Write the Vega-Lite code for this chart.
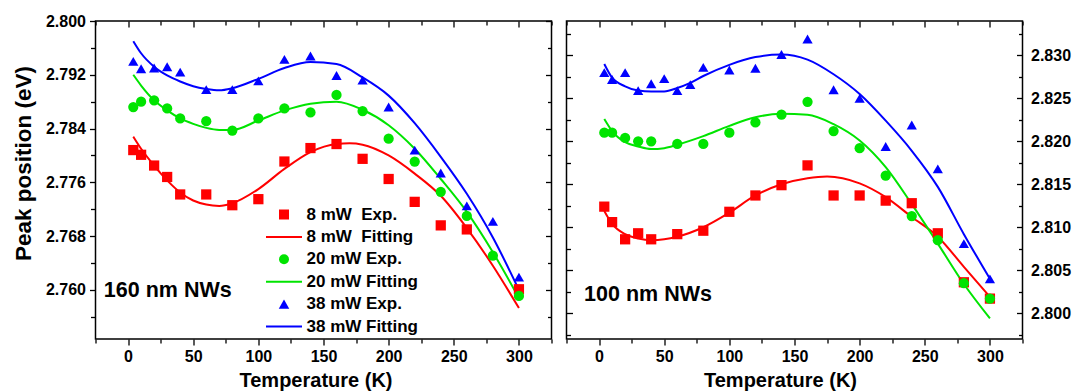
{
  "$schema": "https://vega.github.io/schema/vega-lite/v6.json",
  "background": "white",
  "padding": {"left": 11.5, "top": 12, "right": 0, "bottom": 2},
  "spacing": 11,
  "config": {
    "font": "Liberation Sans",
    "view": {"stroke": "black", "strokeWidth": 1.5},
    "axis": {"labelFont": "Liberation Sans", "labelFontWeight": "bold", "labelFontSize": 16, "labelColor": "black", "titleFont": "Liberation Sans", "titleFontWeight": "bold", "titleColor": "black", "tickColor": "black", "tickWidth": 1.3, "domain": false, "grid": false},
    "legend": {"labelFont": "Liberation Sans", "labelFontWeight": "bold", "labelFontSize": 17, "labelColor": "black"}
  },
  "datasets": {
    "left_exp": [
      {"T": 4, "E": 2.7808, "series": "8 mW\u00a0\u00a0Exp."},
      {"T": 10, "E": 2.7801, "series": "8 mW\u00a0\u00a0Exp."},
      {"T": 20, "E": 2.7785, "series": "8 mW\u00a0\u00a0Exp."},
      {"T": 30, "E": 2.7768, "series": "8 mW\u00a0\u00a0Exp."},
      {"T": 40, "E": 2.7742, "series": "8 mW\u00a0\u00a0Exp."},
      {"T": 60, "E": 2.7742, "series": "8 mW\u00a0\u00a0Exp."},
      {"T": 80, "E": 2.7726, "series": "8 mW\u00a0\u00a0Exp."},
      {"T": 100, "E": 2.7735, "series": "8 mW\u00a0\u00a0Exp."},
      {"T": 120, "E": 2.7791, "series": "8 mW\u00a0\u00a0Exp."},
      {"T": 140, "E": 2.7811, "series": "8 mW\u00a0\u00a0Exp."},
      {"T": 160, "E": 2.7817, "series": "8 mW\u00a0\u00a0Exp."},
      {"T": 180, "E": 2.7795, "series": "8 mW\u00a0\u00a0Exp."},
      {"T": 200, "E": 2.7765, "series": "8 mW\u00a0\u00a0Exp."},
      {"T": 220, "E": 2.7731, "series": "8 mW\u00a0\u00a0Exp."},
      {"T": 240, "E": 2.7696, "series": "8 mW\u00a0\u00a0Exp."},
      {"T": 260, "E": 2.7690, "series": "8 mW\u00a0\u00a0Exp."},
      {"T": 300, "E": 2.7601, "series": "8 mW\u00a0\u00a0Exp."},
      {"T": 4, "E": 2.7872, "series": "20 mW Exp."},
      {"T": 10, "E": 2.7880, "series": "20 mW Exp."},
      {"T": 20, "E": 2.7882, "series": "20 mW Exp."},
      {"T": 30, "E": 2.7870, "series": "20 mW Exp."},
      {"T": 40, "E": 2.7855, "series": "20 mW Exp."},
      {"T": 60, "E": 2.7851, "series": "20 mW Exp."},
      {"T": 80, "E": 2.7837, "series": "20 mW Exp."},
      {"T": 100, "E": 2.7855, "series": "20 mW Exp."},
      {"T": 120, "E": 2.7870, "series": "20 mW Exp."},
      {"T": 140, "E": 2.7864, "series": "20 mW Exp."},
      {"T": 160, "E": 2.7890, "series": "20 mW Exp."},
      {"T": 180, "E": 2.7866, "series": "20 mW Exp."},
      {"T": 200, "E": 2.7825, "series": "20 mW Exp."},
      {"T": 220, "E": 2.7791, "series": "20 mW Exp."},
      {"T": 240, "E": 2.7746, "series": "20 mW Exp."},
      {"T": 260, "E": 2.7710, "series": "20 mW Exp."},
      {"T": 280, "E": 2.7651, "series": "20 mW Exp."},
      {"T": 300, "E": 2.7591, "series": "20 mW Exp."},
      {"T": 4, "E": 2.7940, "series": "38 mW Exp."},
      {"T": 10, "E": 2.7929, "series": "38 mW Exp."},
      {"T": 20, "E": 2.7930, "series": "38 mW Exp."},
      {"T": 30, "E": 2.7932, "series": "38 mW Exp."},
      {"T": 40, "E": 2.7924, "series": "38 mW Exp."},
      {"T": 60, "E": 2.7898, "series": "38 mW Exp."},
      {"T": 80, "E": 2.7898, "series": "38 mW Exp."},
      {"T": 100, "E": 2.7911, "series": "38 mW Exp."},
      {"T": 120, "E": 2.7943, "series": "38 mW Exp."},
      {"T": 140, "E": 2.7948, "series": "38 mW Exp."},
      {"T": 160, "E": 2.7919, "series": "38 mW Exp."},
      {"T": 180, "E": 2.7912, "series": "38 mW Exp."},
      {"T": 200, "E": 2.7872, "series": "38 mW Exp."},
      {"T": 220, "E": 2.7808, "series": "38 mW Exp."},
      {"T": 240, "E": 2.7774, "series": "38 mW Exp."},
      {"T": 260, "E": 2.7725, "series": "38 mW Exp."},
      {"T": 280, "E": 2.7702, "series": "38 mW Exp."},
      {"T": 300, "E": 2.7619, "series": "38 mW Exp."}
    ],
    "left_fit": [
      {"T": 4, "E": 2.7828, "series": "8 mW\u00a0\u00a0Fitting"},
      {"T": 10, "E": 2.7810, "series": "8 mW\u00a0\u00a0Fitting"},
      {"T": 20, "E": 2.7785, "series": "8 mW\u00a0\u00a0Fitting"},
      {"T": 30, "E": 2.7763, "series": "8 mW\u00a0\u00a0Fitting"},
      {"T": 40, "E": 2.7745, "series": "8 mW\u00a0\u00a0Fitting"},
      {"T": 50, "E": 2.7733, "series": "8 mW\u00a0\u00a0Fitting"},
      {"T": 60, "E": 2.7727, "series": "8 mW\u00a0\u00a0Fitting"},
      {"T": 70, "E": 2.7725, "series": "8 mW\u00a0\u00a0Fitting"},
      {"T": 80, "E": 2.7729, "series": "8 mW\u00a0\u00a0Fitting"},
      {"T": 100, "E": 2.7750, "series": "8 mW\u00a0\u00a0Fitting"},
      {"T": 120, "E": 2.7780, "series": "8 mW\u00a0\u00a0Fitting"},
      {"T": 140, "E": 2.7805, "series": "8 mW\u00a0\u00a0Fitting"},
      {"T": 160, "E": 2.7817, "series": "8 mW\u00a0\u00a0Fitting"},
      {"T": 170, "E": 2.7818, "series": "8 mW\u00a0\u00a0Fitting"},
      {"T": 180, "E": 2.7816, "series": "8 mW\u00a0\u00a0Fitting"},
      {"T": 200, "E": 2.7800, "series": "8 mW\u00a0\u00a0Fitting"},
      {"T": 220, "E": 2.7773, "series": "8 mW\u00a0\u00a0Fitting"},
      {"T": 240, "E": 2.7740, "series": "8 mW\u00a0\u00a0Fitting"},
      {"T": 260, "E": 2.7692, "series": "8 mW\u00a0\u00a0Fitting"},
      {"T": 280, "E": 2.7636, "series": "8 mW\u00a0\u00a0Fitting"},
      {"T": 300, "E": 2.7573, "series": "8 mW\u00a0\u00a0Fitting"},
      {"T": 4, "E": 2.7920, "series": "20 mW Fitting"},
      {"T": 10, "E": 2.7904, "series": "20 mW Fitting"},
      {"T": 20, "E": 2.7882, "series": "20 mW Fitting"},
      {"T": 30, "E": 2.7867, "series": "20 mW Fitting"},
      {"T": 40, "E": 2.7855, "series": "20 mW Fitting"},
      {"T": 50, "E": 2.7847, "series": "20 mW Fitting"},
      {"T": 60, "E": 2.7841, "series": "20 mW Fitting"},
      {"T": 70, "E": 2.7838, "series": "20 mW Fitting"},
      {"T": 80, "E": 2.7838, "series": "20 mW Fitting"},
      {"T": 100, "E": 2.7852, "series": "20 mW Fitting"},
      {"T": 120, "E": 2.7867, "series": "20 mW Fitting"},
      {"T": 140, "E": 2.7877, "series": "20 mW Fitting"},
      {"T": 160, "E": 2.7880, "series": "20 mW Fitting"},
      {"T": 180, "E": 2.7868, "series": "20 mW Fitting"},
      {"T": 200, "E": 2.7845, "series": "20 mW Fitting"},
      {"T": 220, "E": 2.7810, "series": "20 mW Fitting"},
      {"T": 240, "E": 2.7765, "series": "20 mW Fitting"},
      {"T": 260, "E": 2.7716, "series": "20 mW Fitting"},
      {"T": 280, "E": 2.7656, "series": "20 mW Fitting"},
      {"T": 300, "E": 2.7588, "series": "20 mW Fitting"},
      {"T": 4, "E": 2.7970, "series": "38 mW Fitting"},
      {"T": 10, "E": 2.7952, "series": "38 mW Fitting"},
      {"T": 20, "E": 2.7932, "series": "38 mW Fitting"},
      {"T": 30, "E": 2.7919, "series": "38 mW Fitting"},
      {"T": 40, "E": 2.7910, "series": "38 mW Fitting"},
      {"T": 50, "E": 2.7903, "series": "38 mW Fitting"},
      {"T": 60, "E": 2.7899, "series": "38 mW Fitting"},
      {"T": 70, "E": 2.7897, "series": "38 mW Fitting"},
      {"T": 80, "E": 2.7900, "series": "38 mW Fitting"},
      {"T": 100, "E": 2.7914, "series": "38 mW Fitting"},
      {"T": 120, "E": 2.7930, "series": "38 mW Fitting"},
      {"T": 140, "E": 2.7939, "series": "38 mW Fitting"},
      {"T": 160, "E": 2.7936, "series": "38 mW Fitting"},
      {"T": 180, "E": 2.7916, "series": "38 mW Fitting"},
      {"T": 200, "E": 2.7889, "series": "38 mW Fitting"},
      {"T": 220, "E": 2.7848, "series": "38 mW Fitting"},
      {"T": 240, "E": 2.7798, "series": "38 mW Fitting"},
      {"T": 260, "E": 2.7743, "series": "38 mW Fitting"},
      {"T": 280, "E": 2.7678, "series": "38 mW Fitting"},
      {"T": 300, "E": 2.7600, "series": "38 mW Fitting"}
    ],
    "right_exp": [
      {"T": 4, "E": 2.8124, "series": "8 mW\u00a0\u00a0Exp."},
      {"T": 10, "E": 2.8106, "series": "8 mW\u00a0\u00a0Exp."},
      {"T": 20, "E": 2.8086, "series": "8 mW\u00a0\u00a0Exp."},
      {"T": 30, "E": 2.8093, "series": "8 mW\u00a0\u00a0Exp."},
      {"T": 40, "E": 2.8086, "series": "8 mW\u00a0\u00a0Exp."},
      {"T": 60, "E": 2.8092, "series": "8 mW\u00a0\u00a0Exp."},
      {"T": 80, "E": 2.8096, "series": "8 mW\u00a0\u00a0Exp."},
      {"T": 100, "E": 2.8118, "series": "8 mW\u00a0\u00a0Exp."},
      {"T": 120, "E": 2.8137, "series": "8 mW\u00a0\u00a0Exp."},
      {"T": 140, "E": 2.8149, "series": "8 mW\u00a0\u00a0Exp."},
      {"T": 160, "E": 2.8172, "series": "8 mW\u00a0\u00a0Exp."},
      {"T": 180, "E": 2.8137, "series": "8 mW\u00a0\u00a0Exp."},
      {"T": 200, "E": 2.8137, "series": "8 mW\u00a0\u00a0Exp."},
      {"T": 220, "E": 2.8131, "series": "8 mW\u00a0\u00a0Exp."},
      {"T": 240, "E": 2.8128, "series": "8 mW\u00a0\u00a0Exp."},
      {"T": 260, "E": 2.8093, "series": "8 mW\u00a0\u00a0Exp."},
      {"T": 280, "E": 2.8036, "series": "8 mW\u00a0\u00a0Exp."},
      {"T": 300, "E": 2.8017, "series": "8 mW\u00a0\u00a0Exp."},
      {"T": 4, "E": 2.8210, "series": "20 mW Exp."},
      {"T": 10, "E": 2.8210, "series": "20 mW Exp."},
      {"T": 20, "E": 2.8204, "series": "20 mW Exp."},
      {"T": 30, "E": 2.8200, "series": "20 mW Exp."},
      {"T": 40, "E": 2.8200, "series": "20 mW Exp."},
      {"T": 60, "E": 2.8197, "series": "20 mW Exp."},
      {"T": 80, "E": 2.8197, "series": "20 mW Exp."},
      {"T": 100, "E": 2.8210, "series": "20 mW Exp."},
      {"T": 120, "E": 2.8222, "series": "20 mW Exp."},
      {"T": 140, "E": 2.8231, "series": "20 mW Exp."},
      {"T": 160, "E": 2.8246, "series": "20 mW Exp."},
      {"T": 180, "E": 2.8212, "series": "20 mW Exp."},
      {"T": 200, "E": 2.8192, "series": "20 mW Exp."},
      {"T": 220, "E": 2.8160, "series": "20 mW Exp."},
      {"T": 240, "E": 2.8113, "series": "20 mW Exp."},
      {"T": 260, "E": 2.8085, "series": "20 mW Exp."},
      {"T": 280, "E": 2.8035, "series": "20 mW Exp."},
      {"T": 300, "E": 2.8017, "series": "20 mW Exp."},
      {"T": 4, "E": 2.8280, "series": "38 mW Exp."},
      {"T": 10, "E": 2.8272, "series": "38 mW Exp."},
      {"T": 20, "E": 2.8280, "series": "38 mW Exp."},
      {"T": 30, "E": 2.8259, "series": "38 mW Exp."},
      {"T": 40, "E": 2.8267, "series": "38 mW Exp."},
      {"T": 50, "E": 2.8273, "series": "38 mW Exp."},
      {"T": 60, "E": 2.8259, "series": "38 mW Exp."},
      {"T": 70, "E": 2.8266, "series": "38 mW Exp."},
      {"T": 80, "E": 2.8286, "series": "38 mW Exp."},
      {"T": 100, "E": 2.8283, "series": "38 mW Exp."},
      {"T": 120, "E": 2.8285, "series": "38 mW Exp."},
      {"T": 140, "E": 2.8301, "series": "38 mW Exp."},
      {"T": 160, "E": 2.8319, "series": "38 mW Exp."},
      {"T": 180, "E": 2.8260, "series": "38 mW Exp."},
      {"T": 200, "E": 2.8250, "series": "38 mW Exp."},
      {"T": 220, "E": 2.8194, "series": "38 mW Exp."},
      {"T": 240, "E": 2.8219, "series": "38 mW Exp."},
      {"T": 260, "E": 2.8168, "series": "38 mW Exp."},
      {"T": 280, "E": 2.8081, "series": "38 mW Exp."},
      {"T": 300, "E": 2.8040, "series": "38 mW Exp."}
    ],
    "right_fit": [
      {"T": 4, "E": 2.8119, "series": "8 mW\u00a0\u00a0Fitting"},
      {"T": 10, "E": 2.8104, "series": "8 mW\u00a0\u00a0Fitting"},
      {"T": 20, "E": 2.8092, "series": "8 mW\u00a0\u00a0Fitting"},
      {"T": 30, "E": 2.8087, "series": "8 mW\u00a0\u00a0Fitting"},
      {"T": 40, "E": 2.8085, "series": "8 mW\u00a0\u00a0Fitting"},
      {"T": 50, "E": 2.8086, "series": "8 mW\u00a0\u00a0Fitting"},
      {"T": 60, "E": 2.8089, "series": "8 mW\u00a0\u00a0Fitting"},
      {"T": 80, "E": 2.8100, "series": "8 mW\u00a0\u00a0Fitting"},
      {"T": 100, "E": 2.8117, "series": "8 mW\u00a0\u00a0Fitting"},
      {"T": 120, "E": 2.8137, "series": "8 mW\u00a0\u00a0Fitting"},
      {"T": 140, "E": 2.8150, "series": "8 mW\u00a0\u00a0Fitting"},
      {"T": 160, "E": 2.8157, "series": "8 mW\u00a0\u00a0Fitting"},
      {"T": 175, "E": 2.8159, "series": "8 mW\u00a0\u00a0Fitting"},
      {"T": 200, "E": 2.8151, "series": "8 mW\u00a0\u00a0Fitting"},
      {"T": 220, "E": 2.8135, "series": "8 mW\u00a0\u00a0Fitting"},
      {"T": 240, "E": 2.8112, "series": "8 mW\u00a0\u00a0Fitting"},
      {"T": 260, "E": 2.8089, "series": "8 mW\u00a0\u00a0Fitting"},
      {"T": 280, "E": 2.8054, "series": "8 mW\u00a0\u00a0Fitting"},
      {"T": 300, "E": 2.8019, "series": "8 mW\u00a0\u00a0Fitting"},
      {"T": 4, "E": 2.8226, "series": "20 mW Fitting"},
      {"T": 10, "E": 2.8212, "series": "20 mW Fitting"},
      {"T": 20, "E": 2.8199, "series": "20 mW Fitting"},
      {"T": 30, "E": 2.8194, "series": "20 mW Fitting"},
      {"T": 40, "E": 2.8191, "series": "20 mW Fitting"},
      {"T": 50, "E": 2.8192, "series": "20 mW Fitting"},
      {"T": 60, "E": 2.8196, "series": "20 mW Fitting"},
      {"T": 80, "E": 2.8206, "series": "20 mW Fitting"},
      {"T": 100, "E": 2.8218, "series": "20 mW Fitting"},
      {"T": 120, "E": 2.8228, "series": "20 mW Fitting"},
      {"T": 140, "E": 2.8232, "series": "20 mW Fitting"},
      {"T": 160, "E": 2.8231, "series": "20 mW Fitting"},
      {"T": 180, "E": 2.8220, "series": "20 mW Fitting"},
      {"T": 200, "E": 2.8201, "series": "20 mW Fitting"},
      {"T": 220, "E": 2.8170, "series": "20 mW Fitting"},
      {"T": 240, "E": 2.8127, "series": "20 mW Fitting"},
      {"T": 260, "E": 2.8081, "series": "20 mW Fitting"},
      {"T": 280, "E": 2.8034, "series": "20 mW Fitting"},
      {"T": 300, "E": 2.7994, "series": "20 mW Fitting"},
      {"T": 4, "E": 2.8290, "series": "38 mW Fitting"},
      {"T": 10, "E": 2.8274, "series": "38 mW Fitting"},
      {"T": 20, "E": 2.8264, "series": "38 mW Fitting"},
      {"T": 30, "E": 2.8259, "series": "38 mW Fitting"},
      {"T": 40, "E": 2.8258, "series": "38 mW Fitting"},
      {"T": 50, "E": 2.8258, "series": "38 mW Fitting"},
      {"T": 60, "E": 2.8262, "series": "38 mW Fitting"},
      {"T": 70, "E": 2.8268, "series": "38 mW Fitting"},
      {"T": 80, "E": 2.8276, "series": "38 mW Fitting"},
      {"T": 100, "E": 2.8289, "series": "38 mW Fitting"},
      {"T": 120, "E": 2.8298, "series": "38 mW Fitting"},
      {"T": 140, "E": 2.8301, "series": "38 mW Fitting"},
      {"T": 160, "E": 2.8295, "series": "38 mW Fitting"},
      {"T": 180, "E": 2.8278, "series": "38 mW Fitting"},
      {"T": 200, "E": 2.8255, "series": "38 mW Fitting"},
      {"T": 220, "E": 2.8224, "series": "38 mW Fitting"},
      {"T": 240, "E": 2.8189, "series": "38 mW Fitting"},
      {"T": 260, "E": 2.8147, "series": "38 mW Fitting"},
      {"T": 280, "E": 2.8092, "series": "38 mW Fitting"},
      {"T": 300, "E": 2.8040, "series": "38 mW Fitting"}
    ]
  },
  "hconcat": [
    {
      "width": 456,
      "height": 318,
      "resolve": {"axis": {"x": "independent", "y": "independent"}},
      "layer": [
        {
          "data": {"name": "left_fit"},
          "mark": {"type": "line", "strokeWidth": 2, "interpolate": "monotone"},
          "encoding": {
            "x": {"field": "T", "type": "quantitative", "scale": {"domain": [-25, 325], "nice": false, "zero": false},
              "axis": {"orient": "top", "values": [-25, 0, 25, 50, 75, 100, 125, 150, 175, 200, 225, 250, 275, 300, 325], "labels": false, "title": null, "minExtent": 0, "tickSize": {"condition": {"test": "datum.value % 50 === 0", "value": -6}, "value": -4}}},
            "y": {"field": "E", "type": "quantitative", "scale": {"domain": [2.7527, 2.8], "nice": false, "zero": false},
              "axis": {"orient": "right", "values": [2.756, 2.76, 2.764, 2.768, 2.772, 2.776, 2.78, 2.784, 2.788, 2.792, 2.796, 2.8], "labels": false, "title": null, "minExtent": 0, "tickSize": {"condition": {"test": "round((datum.value-2.76)*250) % 2 === 0", "value": -6}, "value": -4}}},
            "stroke": {"field": "series", "type": "nominal",
              "scale": {"domain": ["8 mW\u00a0\u00a0Exp.", "8 mW\u00a0\u00a0Fitting", "20 mW Exp.", "20 mW Fitting", "38 mW Exp.", "38 mW Fitting"], "range": ["#ff0000", "#ff0000", "#00e400", "#00e400", "#0000ff", "#0000ff"]},
              "legend": {"title": null, "orient": "none", "legendX": 180, "legendY": 185, "padding": 0, "labelOffset": 14, "rowPadding": 4.4, "symbolStrokeWidth": 2, "encode": {"symbols": {"update": {"strokeWidth": {"signal": "test(/Fitting/, datum.value) ? 2 : 0"}, "size": {"signal": "test(/38 mW Exp/, datum.value) ? 110 : 100"}}}}}}
          }
        },
        {
          "data": {"name": "left_exp"},
          "mark": {"type": "point", "filled": true, "opacity": 1, "strokeWidth": 0},
          "encoding": {
            "x": {"field": "T", "type": "quantitative", "scale": {"domain": [-25, 325], "nice": false, "zero": false},
              "axis": {"orient": "bottom", "values": [-25, 0, 25, 50, 75, 100, 125, 150, 175, 200, 225, 250, 275, 300, 325], "labelExpr": "datum.value >= 0 && datum.value % 50 === 0 ? datum.label : ''", "title": "Temperature (K)", "titleFontSize": 20, "titlePadding": 6, "titleX": 220, "labelPadding": 3, "tickSize": {"condition": {"test": "datum.value % 50 === 0", "value": 6}, "value": 4}}},
            "y": {"field": "E", "type": "quantitative", "scale": {"domain": [2.7527, 2.8], "nice": false, "zero": false},
              "axis": {"orient": "left", "values": [2.756, 2.76, 2.764, 2.768, 2.772, 2.776, 2.78, 2.784, 2.788, 2.792, 2.796, 2.8], "labelExpr": "round((datum.value-2.76)*250) % 2 === 0 ? format(datum.value, '.3f') : ''", "title": "Peak position (eV)", "titleFontSize": 22.5, "titlePadding": 10, "titleY": 142, "labelPadding": 4, "tickSize": {"condition": {"test": "round((datum.value-2.76)*250) % 2 === 0", "value": 6}, "value": 5}}},
            "size": {"field": "series", "type": "nominal", "scale": {"domain": ["8 mW\u00a0\u00a0Exp.", "20 mW Exp.", "38 mW Exp."], "range": [105, 105, 150]}, "legend": null},
            "fill": {"field": "series", "type": "nominal",
              "scale": {"domain": ["8 mW\u00a0\u00a0Exp.", "8 mW\u00a0\u00a0Fitting", "20 mW Exp.", "20 mW Fitting", "38 mW Exp.", "38 mW Fitting"], "range": ["#ff0000", "#ff0000", "#00e400", "#00e400", "#0000ff", "#0000ff"]},
              "legend": {"title": null, "orient": "none", "legendX": 180, "legendY": 185, "padding": 0, "labelOffset": 14, "rowPadding": 4.4, "symbolStrokeWidth": 2, "encode": {"symbols": {"update": {"strokeWidth": {"signal": "test(/Fitting/, datum.value) ? 2 : 0"}, "size": {"signal": "test(/38 mW Exp/, datum.value) ? 110 : 100"}}}}}},
            "shape": {"field": "series", "type": "nominal",
              "scale": {"domain": ["8 mW\u00a0\u00a0Exp.", "8 mW\u00a0\u00a0Fitting", "20 mW Exp.", "20 mW Fitting", "38 mW Exp.", "38 mW Fitting"], "range": ["square", "M-3.6,0H3.6", "circle", "M-3.6,0H3.6", "triangle-up", "M-3.6,0H3.6"]},
              "legend": {"title": null, "orient": "none", "legendX": 180, "legendY": 185, "padding": 0, "labelOffset": 14, "rowPadding": 4.4, "symbolStrokeWidth": 2, "encode": {"symbols": {"update": {"strokeWidth": {"signal": "test(/Fitting/, datum.value) ? 2 : 0"}, "size": {"signal": "test(/38 mW Exp/, datum.value) ? 110 : 100"}}}}}}
          }
        },
        {
          "data": {"values": [{"label": "160 nm NWs"}]},
          "mark": {"type": "text", "align": "left", "baseline": "middle", "fontSize": 21.5, "fontWeight": "bold", "font": "Liberation Sans", "color": "black"},
          "encoding": {
            "text": {"field": "label"},
            "x": {"datum": -18.6, "type": "quantitative", "axis": null},
            "y": {"datum": 2.7599, "type": "quantitative", "axis": null}
          }
        }
      ]
    },
    {
      "width": 456,
      "height": 318,
      "resolve": {"axis": {"x": "independent", "y": "independent"}},
      "layer": [
        {
          "data": {"name": "right_fit"},
          "mark": {"type": "line", "strokeWidth": 2, "interpolate": "monotone"},
          "encoding": {
            "x": {"field": "T", "type": "quantitative", "scale": {"domain": [-25, 325], "nice": false, "zero": false},
              "axis": {"orient": "top", "values": [-25, 0, 25, 50, 75, 100, 125, 150, 175, 200, 225, 250, 275, 300, 325], "labels": false, "title": null, "minExtent": 0, "tickSize": {"condition": {"test": "datum.value % 50 === 0", "value": -6}, "value": -4}}},
            "y": {"field": "E", "type": "quantitative", "scale": {"domain": [2.797, 2.834], "nice": false, "zero": false},
              "axis": {"orient": "left", "values": [2.7975, 2.8, 2.8025, 2.805, 2.8075, 2.81, 2.8125, 2.815, 2.8175, 2.82, 2.8225, 2.825, 2.8275, 2.83, 2.8325], "labels": false, "title": null, "minExtent": 0, "tickSize": {"condition": {"test": "round((datum.value-2.8)*400) % 2 === 0", "value": -6}, "value": -4}}},
            "stroke": {"field": "series", "type": "nominal",
              "scale": {"domain": ["8 mW\u00a0\u00a0Exp.", "8 mW\u00a0\u00a0Fitting", "20 mW Exp.", "20 mW Fitting", "38 mW Exp.", "38 mW Fitting"], "range": ["#ff0000", "#ff0000", "#00e400", "#00e400", "#0000ff", "#0000ff"]},
              "legend": {"title": null, "orient": "none", "legendX": 190, "legendY": 187, "padding": 0, "labelOffset": 14, "rowPadding": 4.4, "symbolStrokeWidth": 2, "encode": {"symbols": {"update": {"strokeWidth": {"signal": "test(/Fitting/, datum.value) ? 2 : 0"}, "size": {"signal": "test(/38 mW Exp/, datum.value) ? 110 : 100"}}}}}}
          }
        },
        {
          "data": {"name": "right_exp"},
          "mark": {"type": "point", "filled": true, "opacity": 1, "strokeWidth": 0},
          "encoding": {
            "x": {"field": "T", "type": "quantitative", "scale": {"domain": [-25, 325], "nice": false, "zero": false},
              "axis": {"orient": "bottom", "values": [-25, 0, 25, 50, 75, 100, 125, 150, 175, 200, 225, 250, 275, 300, 325], "labelExpr": "datum.value >= 0 && datum.value % 50 === 0 ? datum.label : ''", "title": "Temperature (K)", "titleFontSize": 20, "titlePadding": 6, "titleX": 213.5, "labelPadding": 3, "tickSize": {"condition": {"test": "datum.value % 50 === 0", "value": 6}, "value": 4}}},
            "y": {"field": "E", "type": "quantitative", "scale": {"domain": [2.797, 2.834], "nice": false, "zero": false},
              "axis": {"orient": "right", "values": [2.7975, 2.8, 2.8025, 2.805, 2.8075, 2.81, 2.8125, 2.815, 2.8175, 2.82, 2.8225, 2.825, 2.8275, 2.83, 2.8325], "labelExpr": "round((datum.value-2.8)*400) % 2 === 0 ? format(datum.value, '.3f') : ''", "title": null, "labelPadding": 14, "tickSize": {"condition": {"test": "round((datum.value-2.8)*400) % 2 === 0", "value": -6}, "value": -4}}},
            "size": {"field": "series", "type": "nominal", "scale": {"domain": ["8 mW\u00a0\u00a0Exp.", "20 mW Exp.", "38 mW Exp."], "range": [105, 105, 150]}, "legend": null},
            "fill": {"field": "series", "type": "nominal",
              "scale": {"domain": ["8 mW\u00a0\u00a0Exp.", "8 mW\u00a0\u00a0Fitting", "20 mW Exp.", "20 mW Fitting", "38 mW Exp.", "38 mW Fitting"], "range": ["#ff0000", "#ff0000", "#00e400", "#00e400", "#0000ff", "#0000ff"]},
              "legend": {"title": null, "orient": "none", "legendX": 190, "legendY": 187, "padding": 0, "labelOffset": 14, "rowPadding": 4.4, "symbolStrokeWidth": 2, "encode": {"symbols": {"update": {"strokeWidth": {"signal": "test(/Fitting/, datum.value) ? 2 : 0"}, "size": {"signal": "test(/38 mW Exp/, datum.value) ? 110 : 100"}}}}}},
            "shape": {"field": "series", "type": "nominal",
              "scale": {"domain": ["8 mW\u00a0\u00a0Exp.", "8 mW\u00a0\u00a0Fitting", "20 mW Exp.", "20 mW Fitting", "38 mW Exp.", "38 mW Fitting"], "range": ["square", "M-3.6,0H3.6", "circle", "M-3.6,0H3.6", "triangle-up", "M-3.6,0H3.6"]},
              "legend": {"title": null, "orient": "none", "legendX": 190, "legendY": 187, "padding": 0, "labelOffset": 14, "rowPadding": 4.4, "symbolStrokeWidth": 2, "encode": {"symbols": {"update": {"strokeWidth": {"signal": "test(/Fitting/, datum.value) ? 2 : 0"}, "size": {"signal": "test(/38 mW Exp/, datum.value) ? 110 : 100"}}}}}}
          }
        },
        {
          "data": {"values": [{"label": "100 nm NWs"}]},
          "mark": {"type": "text", "align": "left", "baseline": "middle", "fontSize": 21.5, "fontWeight": "bold", "font": "Liberation Sans", "color": "black"},
          "encoding": {
            "text": {"field": "label"},
            "x": {"datum": -11.5, "type": "quantitative", "axis": null},
            "y": {"datum": 2.8021, "type": "quantitative", "axis": null}
          }
        }
      ]
    }
  ]
}
